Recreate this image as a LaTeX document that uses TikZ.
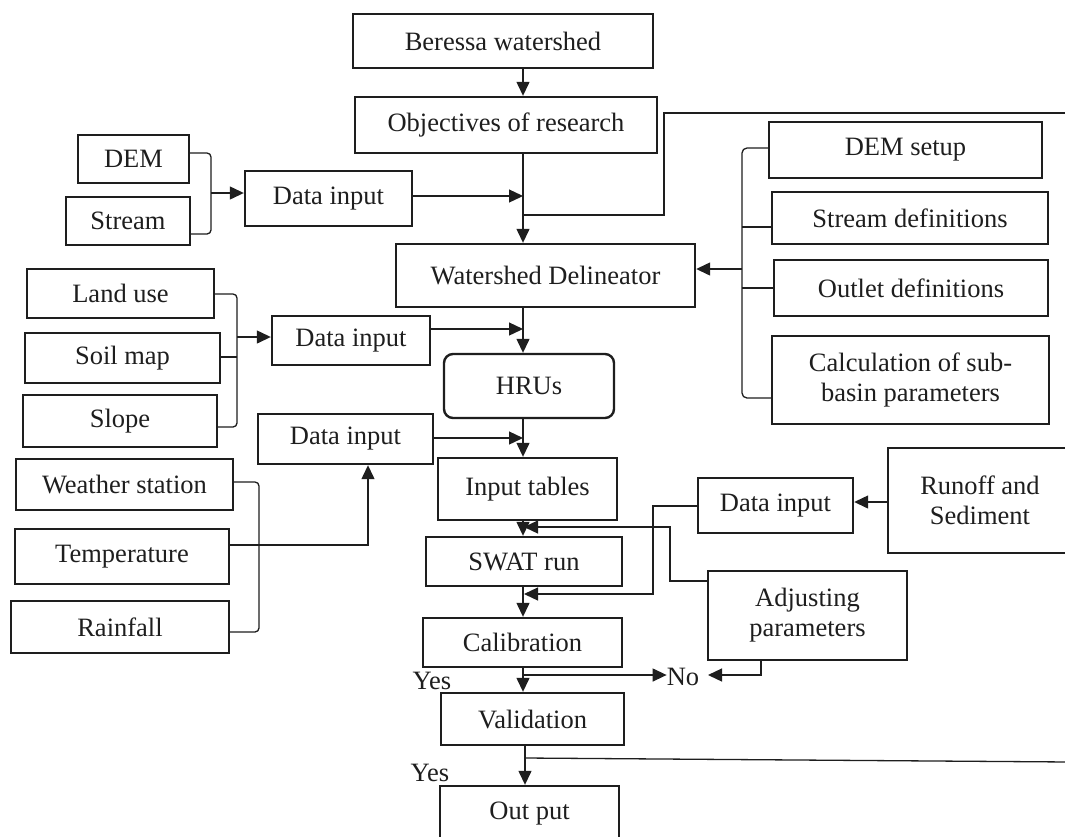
\documentclass[tikz,border=0pt]{standalone}
\usepackage{fontspec}
\setmainfont{Liberation Serif}
\usetikzlibrary{arrows.meta}
\definecolor{ink}{HTML}{1E1E1E}
\begin{document}
\begin{tikzpicture}[x=1pt,y=-1pt,
  font=\fontsize{26.5}{30}\selectfont,
  box/.style={draw=ink, line width=2.4pt, inner sep=0pt, text=ink, align=center},
  wire/.style={draw=ink, line width=1.3pt},
  arr/.style={wire, -{Triangle[length=14pt,width=13pt]}},
  lbl/.style={text=ink, inner sep=0pt}]

\fill[white] (0,0) rectangle (1065,836);
\useasboundingbox (0,0) rectangle (1065,836);

% ---- main column ----
\node[box, minimum width=300pt, minimum height=54pt] (bw)   at (503,41)    {Beressa watershed};
\node[box, minimum width=302pt, minimum height=56pt] (obj)  at (506,125)   {Objectives of research};
\node[box, minimum width=299pt, minimum height=63pt] (wd)   at (545.5,275.5) {Watershed Delineator};
\node[box, rounded corners=9pt, minimum width=170pt, minimum height=64pt] (hru) at (529,386) {HRUs};
\node[box, minimum width=179pt, minimum height=62pt] (itab) at (527.5,489)  {Input tables};
\node[box, minimum width=196pt, minimum height=49pt] (swat) at (524,561.5)  {SWAT run};
\node[box, minimum width=199pt, minimum height=49pt] (cal)  at (522.5,642.5) {Calibration};
\node[box, minimum width=183pt, minimum height=52pt] (val)  at (532.5,719)  {Validation};
\node[box, minimum width=179pt, minimum height=56pt] (out)  at (529.5,814)  {Out put};

% ---- left inputs ----
\node[box, minimum width=111pt, minimum height=48pt] (dem)    at (133.5,159) {DEM};
\node[box, minimum width=124pt, minimum height=48pt] (stream) at (128,221)   {Stream};
\node[box, minimum width=167pt, minimum height=55pt] (di1)    at (328.5,198.5) {Data input};
\node[box, minimum width=187pt, minimum height=49pt] (land)   at (120.5,293.5) {Land use};
\node[box, minimum width=195pt, minimum height=50pt] (soil)   at (122.5,358) {Soil map};
\node[box, minimum width=194pt, minimum height=52pt] (slope)  at (120,421)   {Slope};
\node[box, minimum width=158pt, minimum height=49pt] (di2)    at (351,340.5) {Data input};
\node[box, minimum width=175pt, minimum height=50pt] (di3)    at (345.5,439) {Data input};
\node[box, minimum width=217pt, minimum height=51pt] (wst)    at (124.5,484.5) {Weather station};
\node[box, minimum width=214pt, minimum height=55pt] (temp)   at (122,556.5) {Temperature};
\node[box, minimum width=218pt, minimum height=52pt] (rain)   at (120,627)   {Rainfall};

% ---- right side ----
\node[box, minimum width=273pt, minimum height=56pt] (dset) at (905.5,150) {DEM setup};
\node[box, minimum width=276pt, minimum height=52pt] (sdef) at (910,218)   {Stream definitions};
\node[box, minimum width=274pt, minimum height=56pt] (odef) at (911,288)   {Outlet definitions};
\node[box, minimum width=277pt, minimum height=88pt] (calc) at (910.5,380) {Calculation of sub-\\basin parameters};
\node[box, minimum width=155pt, minimum height=55pt] (di4)  at (775.5,505.5) {Data input};
\node[box, minimum width=184pt, minimum height=105pt] (run) at (980,500.5) {Runoff and\\Sediment};
\node[box, minimum width=199pt, minimum height=89pt] (adj)  at (807.5,615.5) {Adjusting\\parameters};

% ---- labels ----
\node[lbl] (yes1) at (432,681) {Yes};
\node[lbl] (yes2) at (430,773) {Yes};
\node[lbl] (no)   at (683,677) {No};

% ---- junction points ----
\coordinate (m1) at (523,0);
\coordinate (m3) at (525,0);
\coordinate (j1) at (523,196);
\coordinate (j2) at (523,329);
\coordinate (j3) at (523,438);
\coordinate (b1) at (211,153);
\coordinate (b2) at (211,234);
\coordinate (b3) at (211,193);
\coordinate (r1) at (1070,113);
\coordinate (r2) at (664,113);
\coordinate (r3) at (664,215);
\coordinate (r4) at (523,215);
\coordinate (k1) at (742,148);
\coordinate (k2) at (742,398);
\coordinate (k3) at (742,227);
\coordinate (k4) at (742,269);
\coordinate (l1) at (237,294);
\coordinate (l2) at (237,427);
\coordinate (l3) at (237,357);
\coordinate (l4) at (237,337);
\coordinate (w1) at (259,482);
\coordinate (w2) at (259,632);
\coordinate (t1) at (368,545);
\coordinate (d1) at (653,506);
\coordinate (d2) at (653,594);
\coordinate (d3) at (524,594);
\coordinate (a1) at (670,581);
\coordinate (a2) at (670,527);
\coordinate (a3) at (524,527);
\coordinate (a4) at (761,675);
\coordinate (a5) at (708,675);
\coordinate (c1) at (523,675);
\coordinate (v1) at (525,758);
\coordinate (v2) at (1070,762);
\coordinate (u1) at (888,502);

% ---- main flow ----
\draw[arr] (bw.south -| m1) -- (obj.north -| m1);
\draw[arr] (obj.south -| m1) -- (wd.north -| m1);
\draw[arr] (wd.south -| m1) -- (hru.north -| m1);
\draw[arr] (hru.south -| m1) -- (itab.north -| m1);
\draw[arr] (itab.south -| m1) -- (swat.north -| m1);
\draw[arr] (swat.south -| m1) -- (cal.north -| m1);
\draw[arr] (cal.south -| m1) -- (val.north -| m1);
\draw[arr] (val.south -| m3) -- (out.north -| m3);

% ---- data inputs into the main column ----
\draw[arr] (di1.east |- j1) -- (j1);
\draw[arr] (di2.east |- j2) -- (j2);
\draw[arr] (di3.east |- j3) -- (j3);

% DEM / Stream bracket
\draw[wire, rounded corners=4pt] (dem.east |- b1) -- (b1) -- (b2) -- (stream.east |- b2);
\draw[arr] (b3) -- (di1.west |- b3);

% line from the right edge into the main column
\draw[wire] (r1) -- (r2) -- (r3) -- (r4);

% delineation steps bracket
\draw[wire, rounded corners=5pt] (dset.west |- k1) -- (k1) -- (k2) -- (calc.west |- k2);
\draw[wire] (k3) -- (sdef.west |- k3);
\draw[wire] (odef.west) -- (odef.west -| k1);
\draw[arr] (k4) -- (wd.east |- k4);

% Land use / Soil map / Slope bracket
\draw[wire, rounded corners=4pt] (land.east |- l1) -- (l1) -- (l2) -- (slope.east |- l2);
\draw[wire] (soil.east |- l3) -- (l3);
\draw[arr] (l4) -- (di2.west |- l4);

% weather bracket
\draw[wire, rounded corners=4pt] (wst.east |- w1) -- (w1) -- (w2) -- (rain.east |- w2);
\draw[arr] (temp.east |- t1) -- (t1) -- (di3.south -| t1);

% observed data and parameter adjustment loops
\draw[arr] (run.west |- u1) -- (di4.east |- u1);
\draw[arr] (di4.west |- d1) -- (d1) -- (d2) -- (d3);
\draw[arr] (adj.west |- a1) -- (a1) -- (a2) -- (a3);
\draw[arr] (c1) -- (no.west |- c1);
\draw[arr] (adj.south -| a4) -- (a4) -- (a5);

% line leaving Validation to the right edge
\draw[wire] (v1) -- (v2);

\end{tikzpicture}
\end{document}
